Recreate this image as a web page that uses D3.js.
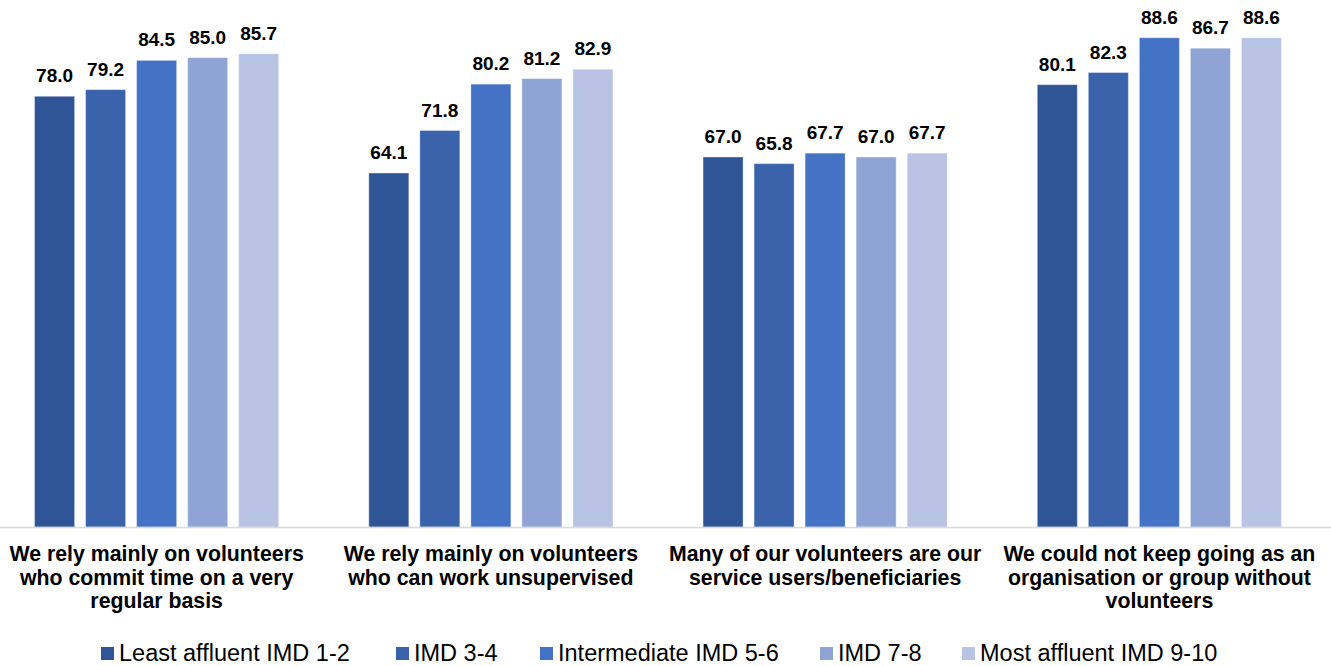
<!DOCTYPE html>
<html>
<head>
<meta charset="utf-8">
<script src="https://cdn.jsdelivr.net/npm/d3@7"></script>
<style>
  body { margin: 0; background: #fff; }
  svg { display: block; }
  .value { font-family: "Liberation Sans", Arial, sans-serif; font-weight: bold; font-size: 19px; fill: #000; }
  .cat { font-family: "Liberation Sans", Arial, sans-serif; font-weight: bold; font-size: 21.3px; fill: #000; }
  .legend text { font-family: "Liberation Sans", Arial, sans-serif; font-size: 23.5px; fill: #000; }
</style>
</head>
<body>
<div id="chart"></div>
<script>
// chart data
const categories = [
  ['We rely mainly on volunteers', 'who commit time on a very', 'regular basis'],
  ['We rely mainly on volunteers', 'who can work unsupervised'],
  ['Many of our volunteers are our', 'service users/beneficiaries'],
  ['We could not keep going as an', 'organisation or group without', 'volunteers']
];
const seriesNames = ['Least affluent IMD 1-2', 'IMD 3-4', 'Intermediate IMD 5-6', 'IMD 7-8', 'Most affluent IMD 9-10'];
const leastAffluent = [78.0, 64.1, 67.0, 80.1];
const imd34 = [79.2, 71.8, 65.8, 82.3];
const intermediate = [84.5, 80.2, 67.7, 88.6];
const imd78 = [85.0, 81.2, 67.0, 86.7];
const mostAffluent = [85.7, 82.9, 67.7, 88.6];
const seriesValues = [leastAffluent, imd34, intermediate, imd78, mostAffluent];
const colors = ['#2F5597', '#3A63AB', '#4472C4', '#8FA4D4', '#B9C3E3'];

const width = 1331, height = 666;
const baseY = 527;

const svg = d3.select('#chart').append('svg')
  .attr('width', width)
  .attr('height', height);

const x0 = d3.scaleBand()
  .domain(d3.range(categories.length))
  .range([-10.5, 1326.5])
  .paddingInner(0)
  .paddingOuter(0);

const x1 = d3.scaleBand()
  .domain(d3.range(seriesNames.length))
  .range([0, x0.bandwidth()])
  .paddingInner(0.216)
  .paddingOuter(0.883);

const y = d3.scaleLinear()
  .domain([0, 90])
  .range([baseY, 30]);

// bars
const groups = svg.selectAll('.group')
  .data(categories.map((c, i) => i))
  .enter().append('g')
  .attr('class', 'group')
  .attr('transform', d => `translate(${x0(d)},0)`);

const bars = groups.selectAll('g.bar')
  .data(ci => seriesValues.map((vals, si) => ({ si, value: vals[ci] })))
  .enter().append('g')
  .attr('class', 'bar');

bars.append('rect')
  .attr('x', d => x1(d.si))
  .attr('y', d => y(d.value))
  .attr('width', x1.bandwidth())
  .attr('height', d => baseY - y(d.value))
  .attr('fill', d => colors[d.si])
  .attr('stroke', '#ffffff')
  .attr('stroke-opacity', 0.35)
  .attr('stroke-width', 1);

bars.append('text')
  .attr('class', 'value')
  .attr('x', d => x1(d.si) + x1.bandwidth() / 2)
  .attr('y', d => y(d.value) - 14)
  .attr('text-anchor', 'middle')
  .text(d => d.value.toFixed(1));

// axis line
svg.append('line')
  .attr('x1', 0).attr('x2', width)
  .attr('y1', baseY + 0.5).attr('y2', baseY + 0.5)
  .attr('stroke', '#d9d9d9')
  .attr('stroke-width', 1.5);

// category labels
const catText = svg.selectAll('.cat')
  .data(categories)
  .enter().append('text')
  .attr('class', 'cat')
  .attr('text-anchor', 'middle')
  .attr('transform', (d, i) => `translate(${x0(i) + x0.bandwidth() / 2},561)`);

catText.selectAll('tspan')
  .data(d => d)
  .enter().append('tspan')
  .attr('x', 0)
  .attr('dy', (d, i) => i === 0 ? 0 : 23.5)
  .text(d => d);

// legend
const legend = svg.append('g').attr('class', 'legend');
const legendStarts = [101, 396, 540, 820, 962];
seriesNames.forEach((name, i) => {
  const g = legend.append('g').attr('transform', `translate(${legendStarts[i]},647)`);
  g.append('rect').attr('width', 13).attr('height', 13).attr('fill', colors[i]);
  g.append('text').attr('x', 18).attr('y', 14).text(name);
});
</script>
</body>
</html>
